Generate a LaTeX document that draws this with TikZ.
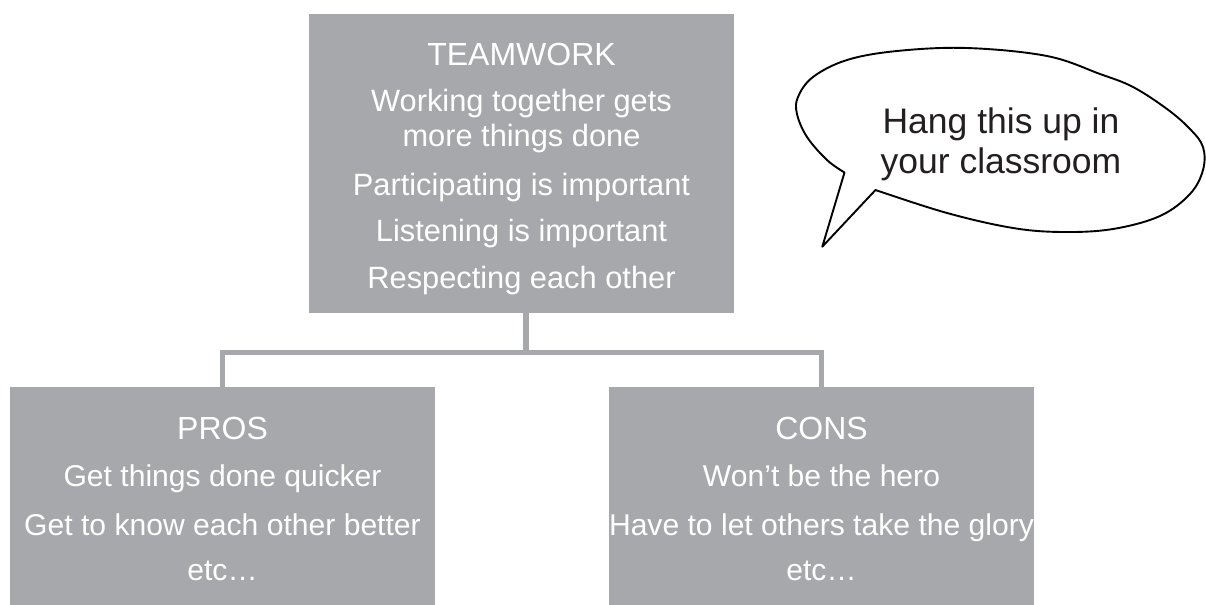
\documentclass[tikz,border=0pt]{standalone}
\usepackage{fontspec}
\setmainfont{Liberation Sans}
\usetikzlibrary{calc}
\definecolor{boxgray}{RGB}{167,168,171}
\definecolor{inkdark}{RGB}{35,31,32}
\begin{document}
\begin{tikzpicture}[x=0.5pt,y=-0.5pt,
  panel/.style={fill=boxgray, draw=none, inner sep=0pt, minimum width=212.5pt},
  title/.style={anchor=base, text=white, font=\fontsize{16}{19}\selectfont, inner sep=0pt},
  body/.style={anchor=base, text=white, font=\fontsize{15.4}{18}\selectfont, inner sep=0pt},
  lowbody/.style={body, font=\fontsize{15.05}{18}\selectfont},
  conn/.style={draw=boxgray, line width=2.6pt},
  bubble/.style={draw=black, line width=0.95pt, line join=round, fill=white},
  say/.style={anchor=base, text=inkdark, font=\fontsize{17.75}{21}\selectfont, inner sep=0pt}]
\useasboundingbox (0,0) rectangle (1206,605);

% boxes
\node[panel, minimum height=149.5pt] (top) at (521.5,163.5) {};
\node[panel, minimum height=109pt] (pros) at (222.5,496) {};
\node[panel, minimum height=109pt] (cons) at (821.5,496) {};

% connectors
\draw[conn] ([xshift=2.25pt]top.south) -- ++(0,39) -| (pros.north);
\draw[conn] ([xshift=2.25pt]top.south) -- ++(0,39) -| (cons.north);

% top box text
\node[title] (ttl) at (521.5,65) {TEAMWORK};
\node[body] (t1) at (521.5,111.5) {Working together gets};
\node[body] (t2) at (521.5,146.7) {more things done};
\node[body] (t3) at (521.5,195) {Participating is important};
\node[body] (t4) at (521.5,241.7) {Listening is important};
\node[body] (t5) at (521.5,288.3) {Respecting each other};

% pros
\node[title] (pt) at (222.5,439.3) {PROS};
\node[lowbody] (p1) at (222.5,486.7) {Get things done quicker};
\node[lowbody] (p2) at (222.5,535) {Get to know each other better};
\node[lowbody] (p3) at (222.5,580.7) {etc…};

% cons
\node[title] (ct) at (821.5,439.3) {CONS};
\node[lowbody] (c1) at (821.5,486.7) {Won’t be the hero};
\node[lowbody] (c2) at (821.5,535) {Have to let others take the glory};
\node[lowbody] (c3) at (821.5,580.7) {etc…};

% speech bubble
\draw[bubble] (844.5,172.5) -- (822.3,246.7) -- plot[smooth, tension=0.6] coordinates {
  (875.5,190) (947,213) (1013,228) (1063,232) (1113,229) (1160,216) (1190,194)
  (1203,170) (1203,147) (1190,129) (1167,109) (1133,87) (1100,74) (1047,56)
  (967,48) (897,51) (847,60) (813,77) (798,97) (797,114) (807,137) (827,160) (844.5,172.5)} -- cycle;
\node[say] (s1) at (1001,133.5) {Hang this up in};
\node[say] (s2) at (1001,173.5) {your classroom};
\end{tikzpicture}
\end{document}
